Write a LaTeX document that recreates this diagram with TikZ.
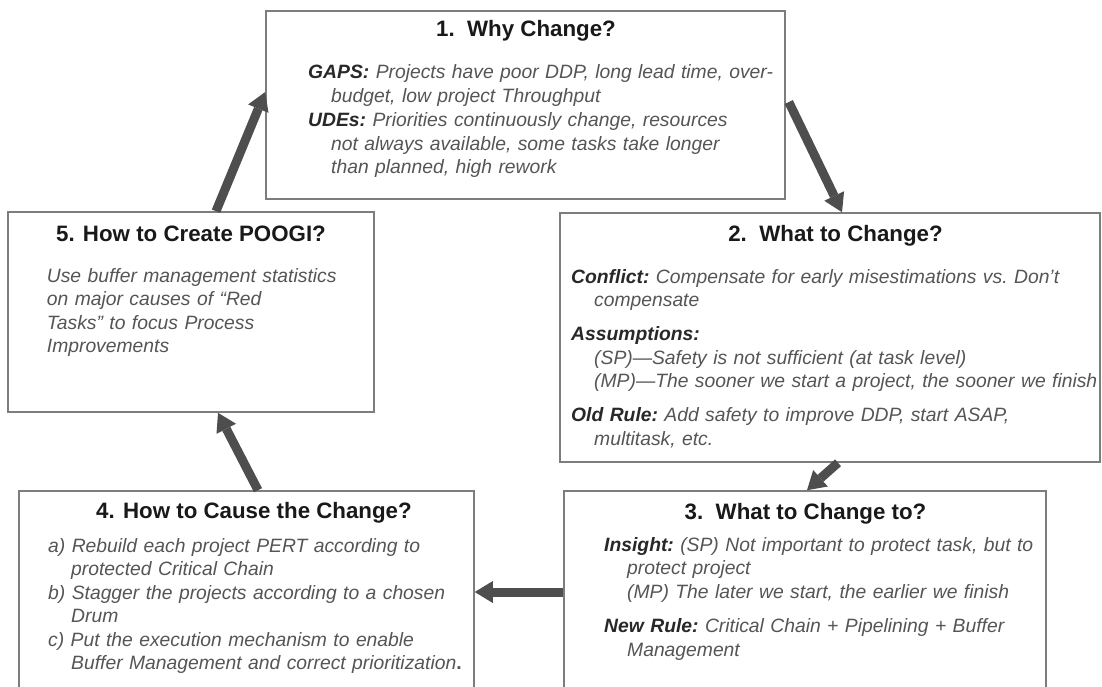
\documentclass[tikz,border=0pt]{standalone}
\usepackage{fontspec}
\setmainfont{Liberation Sans}
\usepackage{xcolor}
\usepackage{tikz}
\usetikzlibrary{arrows.meta,calc}

\definecolor{framegray}{RGB}{125,125,125}
\definecolor{arrowgray}{RGB}{78,78,78}
\definecolor{titleink}{RGB}{25,25,25}
\definecolor{labelink}{RGB}{40,40,40}
\definecolor{bodyink}{RGB}{85,85,85}

% bold label in front of an entry, hanging indent for the following lines
\newcommand{\lbl}[1]{{\bfseries\color{labelink}#1}}
\newcommand{\hang}{\hangindent=23pt\hangafter=1\relax}

\tikzset{
  panel/.style={draw=framegray, line width=1.6pt, fill=white, inner sep=0pt},
  heading/.style={font=\fontsize{22.3}{26}\selectfont\bfseries, text=titleink, inner sep=0pt},
  body/.style={font=\fontsize{19.3}{23.5}\selectfont\itshape\frenchspacing, text=bodyink, inner sep=0pt,
    text width=#1, align=left, anchor=base west},
  flow/.style={draw=arrowgray, line width=9pt, -{Triangle[length=18pt,width=22pt,line width=0pt]}},
}

\begin{document}
\begin{tikzpicture}[x=1pt,y=-1pt]
\useasboundingbox (0,0) rectangle (1102,686);
\clip (0,0) rectangle (1102,686);

% the five boxes
\node[panel, minimum width=519pt, minimum height=188pt] (why) at (525.5,105) {};
\node[panel, minimum width=540pt, minimum height=249pt] (what) at (830,337.5) {};
\node[panel, minimum width=482pt, minimum height=202pt] (whatto) at (805,592) {};
\node[panel, minimum width=455pt, minimum height=202pt] (cause) at (246.5,592) {};
\node[panel, minimum width=366pt, minimum height=200pt] (poogi) at (191,312) {};

% 1
\node[heading, anchor=base] (whyhead) at (526,36) {1.\ \ Why Change?};
\node[body=490pt] (whybody) at (308,78.5) {%
  \hang\lbl{GAPS:} Projects have poor DDP, long lead time, over-\newline
  budget, low project Throughput\par\vspace{1pt}
  \hang\lbl{UDEs:} Priorities continuously change, resources\newline
  not always available, some tasks take longer\newline
  than planned, high rework\par};

% 2
\node[heading, anchor=base] (whathead) at (835.5,241.7) {2.\ \ What to Change?};
\node[body=530pt] (whatbody) at (571,283) {%
  \hang\lbl{Conflict:} Compensate for early misestimations vs. Don’t\newline
  compensate\par\vspace{10.5pt}
  \hang\lbl{Assumptions:}\newline
  (SP)—Safety is not sufficient (at task level)\newline
  (MP)—The sooner we start a project, the sooner we finish\par\vspace{10.5pt}
  \hang\lbl{Old Rule:} Add safety to improve DDP, start ASAP,\newline
  multitask, etc.\par};

% 3
\node[heading, anchor=base] (whattohead) at (805.5,519.7) {3.\ \ What to Change to?};
\node[body=450pt] (whattobody) at (604,551) {%
  \hang\lbl{Insight:} (SP) Not important to protect task, but to\newline
  protect project\newline
  (MP) The later we start, the earlier we finish\par\vspace{11pt}
  \hang\lbl{New Rule:} Critical Chain + Pipelining + Buffer\newline
  Management\par};

% 4
\node[heading, anchor=base] (causehead) at (254,518) {4. How to Cause the Change?};
\node[body=430pt] (causebody) at (48,552) {%
  \hang a) Rebuild each project PERT according to\newline
  protected Critical Chain\par
  \hang b) Stagger the projects according to a chosen\newline
  Drum\par
  \hang c) Put the execution mechanism to enable\newline
  Buffer Management and correct prioritization{\upshape\bfseries .}\par};

% 5
\node[heading, anchor=base] (poogihead) at (191,241) {5. How to Create POOGI?};
\node[body=320pt] (poogibody) at (46.7,282) {%
  Use buffer management statistics\newline
  on major causes of “Red\newline
  Tasks” to focus Process\newline
  Improvements};

% the cycle
\draw[flow] ([xshift=25pt]poogi.north) -- ([yshift=13pt]why.west);
\draw[flow] ([shift={(3pt,3pt)}]why.east) -- ([xshift=12pt]what.north);
\draw[flow] ([xshift=8pt]what.south) -- ([xshift=2pt]whatto.north);
\draw[flow] (whatto.west) -- (cause.east);
\draw[flow] ([xshift=11.5pt]cause.north) -- ([xshift=27pt]poogi.south);

\end{tikzpicture}
\end{document}
